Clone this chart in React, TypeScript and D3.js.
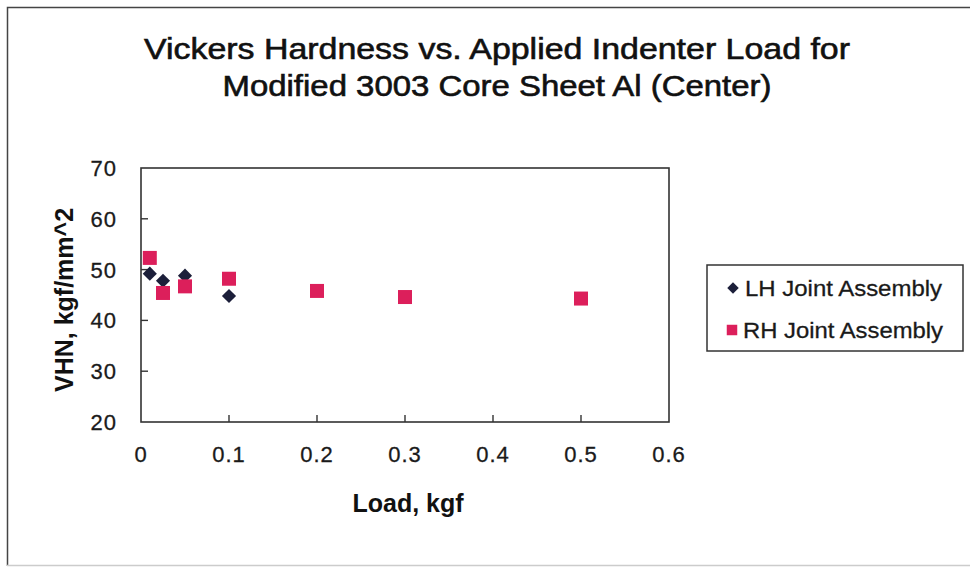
import React from "react";
import * as d3 from "d3";

const titleLines = ["Vickers Hardness vs. Applied Indenter Load for", "Modified 3003 Core Sheet Al (Center)"];
const xLabel = "Load, kgf";
const yLabel = "VHN, kgf/mm^2";
const xTicks = [0, 0.1, 0.2, 0.3, 0.4, 0.5, 0.6];
const yTicks = [20, 30, 40, 50, 60, 70];
const seriesNames = ["LH Joint Assembly", "RH Joint Assembly"];
const lhLoad = [0.01, 0.025, 0.05, 0.1];
const lhVHN = [49.2, 47.8, 48.8, 44.8];
const rhLoad = [0.01, 0.025, 0.05, 0.1, 0.2, 0.3, 0.5];
const rhVHN = [52.3, 45.4, 46.7, 48.2, 45.8, 44.6, 44.3];

const W = 970;
const H = 571;
const plot = { left: 141, right: 669, top: 168, bottom: 422 };
const FONT = "'Liberation Sans', Arial, sans-serif";
const LH_COLOR = "#1c1f3a";
const RH_COLOR = "#dc1f5b";

export default function App() {
  const x = d3.scaleLinear().domain([0, 0.6]).range([plot.left, plot.right]);
  const y = d3.scaleLinear().domain([20, 70]).range([plot.bottom, plot.top]);
  const square = d3.symbol().type(d3.symbolSquare).size(196)() as string;
  const diamond = d3.symbol().type(d3.symbolSquare).size(100)() as string;
  const legendSquare = d3.symbol().type(d3.symbolSquare).size(110)() as string;
  const legendDiamond = d3.symbol().type(d3.symbolSquare).size(66)() as string;

  return (
    <div style={{ position: "fixed", left: 0, top: 0 }}>
      <svg width={W} height={H} style={{ display: "block", background: "#fff" }}>
        <rect x={0} y={0} width={W} height={H} fill="#fff" />
        {/* chart frame */}
        <path d={`M7.5,${H - 5} V7.5 H${W + 5}`} fill="none" stroke="#444" strokeWidth={1.5} />
        <line x1={7} x2={W} y1={565.5} y2={565.5} stroke="#ccc" strokeWidth={1.5} />

        {/* title */}
        <g stroke="#111" strokeWidth={0.6}>
          <text x={497} y={59} textAnchor="middle" fontFamily={FONT} fontSize={29} fill="#111"
            textLength={706} lengthAdjust="spacingAndGlyphs">{titleLines[0]}</text>
          <text x={497} y={96} textAnchor="middle" fontFamily={FONT} fontSize={29} fill="#111"
            textLength={549} lengthAdjust="spacingAndGlyphs">{titleLines[1]}</text>
        </g>

        {/* plot area */}
        <rect x={plot.left} y={plot.top} width={plot.right - plot.left} height={plot.bottom - plot.top}
          fill="#fff" stroke="#333" strokeWidth={1.6} />

        {/* x ticks */}
        {xTicks.map((t) => (
          <g key={"x" + t}>
            {t > 0 && t < 0.6 && (
              <line x1={x(t)} x2={x(t)} y1={plot.bottom} y2={plot.bottom - 7} stroke="#333" strokeWidth={1.4} />
            )}
            <text x={x(t)} y={462} textAnchor="middle" fontFamily={FONT} fontSize={22} fill="#1a1a1a"
              stroke="#1a1a1a" strokeWidth={0.3} letterSpacing={1}>{String(t)}</text>
          </g>
        ))}
        {/* y ticks */}
        {yTicks.map((t) => (
          <g key={"y" + t}>
            {t > 20 && t < 70 && (
              <line x1={plot.left} x2={plot.left + 7} y1={y(t)} y2={y(t)} stroke="#333" strokeWidth={1.4} />
            )}
            <text x={117} y={y(t) + 8} textAnchor="end" fontFamily={FONT} fontSize={22} fill="#1a1a1a"
              stroke="#1a1a1a" strokeWidth={0.3} letterSpacing={1}>{String(t)}</text>
          </g>
        ))}

        {/* axis titles */}
        <text x={408} y={512} textAnchor="middle" fontFamily={FONT} fontSize={25} fontWeight="bold" fill="#111">{xLabel}</text>
        <text transform={`translate(73,${300}) rotate(-90)`} textAnchor="middle" fontFamily={FONT} fontSize={25}
          fontWeight="bold" fill="#111">{yLabel}</text>

        {/* LH series (diamonds) */}
        {lhLoad.map((l, i) => (
          <path key={"lh" + i} d={diamond} transform={`translate(${x(l)},${y(lhVHN[i])}) rotate(45)`} fill={LH_COLOR} />
        ))}
        {/* RH series (squares) */}
        {rhLoad.map((l, i) => (
          <path key={"rh" + i} d={square} transform={`translate(${x(l)},${y(rhVHN[i])})`} fill={RH_COLOR} />
        ))}

        {/* legend */}
        <rect x={707} y={265} width={256} height={86} fill="#fff" stroke="#333" strokeWidth={1.5} />
        <path d={legendDiamond} transform="translate(733,288) rotate(45)" fill={LH_COLOR} />
        <text x={745} y={296} fontFamily={FONT} fontSize={22} fill="#1a1a1a" stroke="#1a1a1a" strokeWidth={0.3}
          textLength={197} lengthAdjust="spacingAndGlyphs">{seriesNames[0]}</text>
        <path d={legendSquare} transform="translate(732,330)" fill={RH_COLOR} />
        <text x={743} y={338} fontFamily={FONT} fontSize={22} fill="#1a1a1a" stroke="#1a1a1a" strokeWidth={0.3}
          textLength={200} lengthAdjust="spacingAndGlyphs">{seriesNames[1]}</text>
      </svg>
    </div>
  );
}
